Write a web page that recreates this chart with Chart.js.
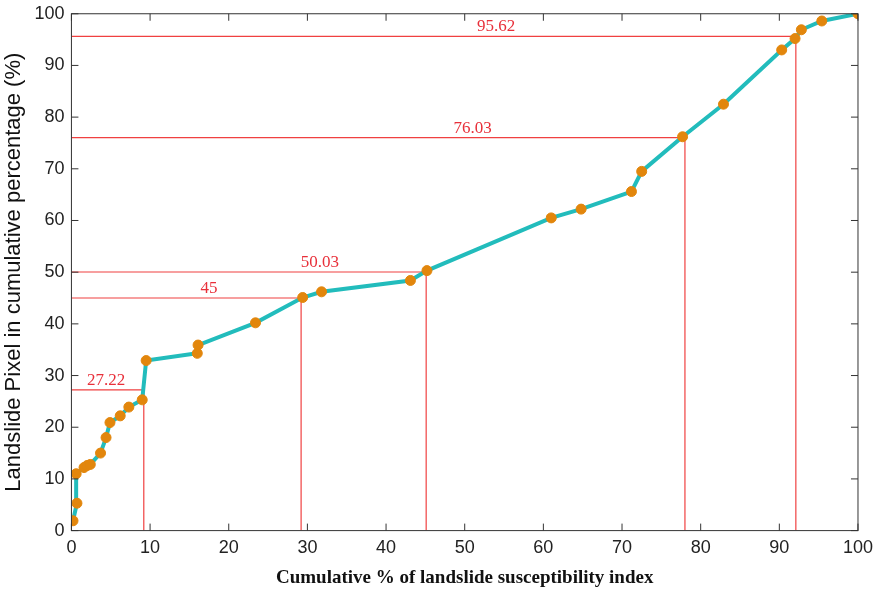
<!DOCTYPE html>
<html lang="en">
    <head>
        <meta charset="UTF-8">
        <title>Landslide cumulative percentage</title>
        <style>
            body { margin: 0; background: #fff; }
            #wrap { width: 880px; height: 589px; }
        </style>
    </head>

    <script src="https://cdn.jsdelivr.net/npm/chart.js"></script>

    <body>
        <div id="wrap"><canvas id="myChart" width="880" height="589"></canvas></div>
    </body>

    <script>
        // curve points
        const xVals = [0.2, 0.7, 0.6, 1.6, 2.0, 2.4, 3.7, 4.4, 4.9, 6.2, 7.3, 9.0, 9.5, 16.0, 16.1, 23.4, 29.4, 31.8, 43.1, 45.2, 61.0, 64.8, 71.2, 72.5, 77.7, 82.9, 90.3, 92.0, 92.8, 95.4, 100];
        const yVals = [1.9, 5.3, 11.0, 12.2, 12.6, 12.8, 15.0, 18.0, 20.9, 22.2, 23.9, 25.3, 32.9, 34.3, 35.9, 40.2, 45.1, 46.2, 48.4, 50.3, 60.5, 62.2, 65.6, 69.5, 76.2, 82.5, 93.0, 95.2, 96.9, 98.6, 100];

        // red guide lines
        const guideX = [9.2, 29.2, 45.1, 78.0, 92.1];
        const guideY = [27.22, 45, 50.03, 76.03, 95.62];
        const guideLabels = ['27.22', '45', '50.03', '76.03', '95.62'];
        const labelX = [4.4, 17.5, 31.6, 51, 54];

        const tickVals = [0, 10, 20, 30, 40, 50, 60, 70, 80, 90, 100];

        const datasets = [{
            data: xVals.map((x, i) => ({x: x, y: yVals[i]})),
            showLine: true,
            borderColor: '#22bcbc',
            borderWidth: 4,
            pointBackgroundColor: '#e2860c',
            pointBorderColor: '#e2860c',
            pointRadius: 5,
            pointBorderWidth: 1,
            tension: 0
        }];

        for (let i = 0; i < guideX.length; i++) {
            datasets.push({
                data: [{x: 0, y: guideY[i]}, {x: guideX[i], y: guideY[i]}, {x: guideX[i], y: 0}],
                showLine: true,
                borderColor: '#f04040',
                borderWidth: 1.2,
                pointRadius: 0,
                tension: 0
            });
        }

        // draws the box, inward ticks and red labels
        const framePlugin = {
            id: 'frame',
            afterDatasetsDraw(chart) {
                const ctx = chart.ctx;
                const xs = chart.scales.x;
                const ys = chart.scales.y;
                const a = chart.chartArea;
                ctx.save();
                ctx.strokeStyle = '#333';
                ctx.lineWidth = 1;
                ctx.strokeRect(a.left, a.top, a.right - a.left, a.bottom - a.top);
                ctx.beginPath();
                tickVals.forEach(v => {
                    const px = xs.getPixelForValue(v);
                    ctx.moveTo(px, a.bottom); ctx.lineTo(px, a.bottom - 7);
                    ctx.moveTo(px, a.top); ctx.lineTo(px, a.top + 7);
                    const py = ys.getPixelForValue(v);
                    ctx.moveTo(a.left, py); ctx.lineTo(a.left + 7, py);
                    ctx.moveTo(a.right, py); ctx.lineTo(a.right - 7, py);
                });
                ctx.stroke();

                ctx.fillStyle = '#e8303a';
                ctx.font = '17px "Liberation Serif", serif';
                ctx.textAlign = 'center';
                ctx.textBaseline = 'bottom';
                for (let i = 0; i < guideLabels.length; i++) {
                    ctx.fillText(guideLabels[i], xs.getPixelForValue(labelX[i]), ys.getPixelForValue(guideY[i]) - 1);
                }
                ctx.restore();
            }
        };

        const ctx = document.getElementById('myChart').getContext('2d');
        const myChart = new Chart(ctx, {
            type: 'scatter',
            data: { datasets: datasets },
            options: {
                responsive: false,
                animation: false,
                layout: { padding: { top: 0, right: 12, left: 1, bottom: 0 } },
                plugins: { legend: { display: false }, tooltip: { enabled: false } },
                scales: {
                    x: {
                        type: 'linear', min: 0, max: 100,
                        afterBuildTicks: s => { s.ticks = tickVals.map(v => ({value: v})); },
                        grid: { display: false, drawTicks: false },
                        border: { display: false },
                        ticks: { color: '#222', padding: 7, font: { family: '"Liberation Sans", Arial', size: 18 } },
                        title: {
                            display: true,
                            text: 'Cumulative % of landslide susceptibility index',
                            color: '#111',
                            padding: { top: 0, bottom: 0 },
                            font: { family: '"Liberation Serif", "Times New Roman", serif', size: 19, weight: 'bold' }
                        }
                    },
                    y: {
                        type: 'linear', min: 0, max: 100,
                        afterBuildTicks: s => { s.ticks = tickVals.map(v => ({value: v})); },
                        grid: { display: false, drawTicks: false },
                        border: { display: false },
                        ticks: { color: '#222', padding: 7, font: { family: '"Liberation Sans", Arial', size: 18, lineHeight: 0.75 } },
                        title: {
                            display: true,
                            text: 'Landslide Pixel in cumulative percentage (%)',
                            color: '#111',
                            padding: { top: 0, bottom: 0 },
                            font: { family: '"Liberation Sans", Arial', size: 22 }
                        }
                    }
                }
            },
            plugins: [framePlugin]
        });
    </script>
</html>
